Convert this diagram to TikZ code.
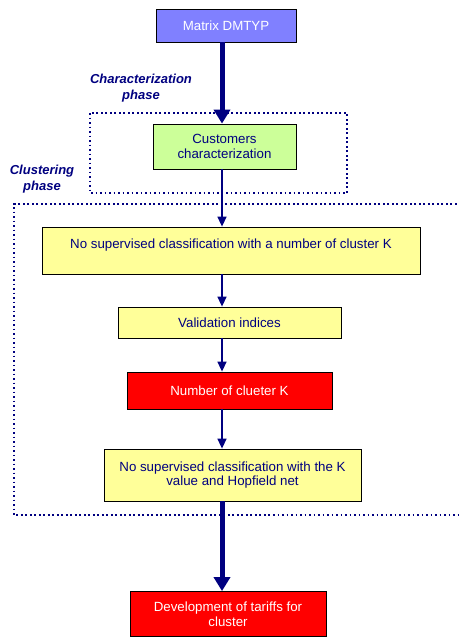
\documentclass[tikz,border=0pt]{standalone}
\usepackage{fontspec}
\setmainfont{Liberation Sans}
\usetikzlibrary{arrows.meta}
\definecolor{navy}{RGB}{0,0,128}
\definecolor{lilac}{RGB}{128,128,255}
\definecolor{lime}{RGB}{204,255,153}
\definecolor{paleyellow}{RGB}{255,255,153}

\begin{document}
\begin{tikzpicture}[x=1pt,y=-1pt,
    box/.style={draw=black, line width=0.8pt, align=center, text=navy,
                inner sep=0pt, font=\fontsize{13.3}{14.5}\selectfont},
    thinarrow/.style={navy, line width=1.5pt, -{Triangle[width=9pt,length=10pt]}},
    thickarrow/.style={navy, line width=5pt, -{Triangle[width=16pt,length=14pt]}},
    phaseframe/.style={navy, line width=1.6pt, dash pattern=on 1.6pt off 2.9pt},
    phase/.style={text=navy, align=center, font=\bfseries\itshape\fontsize{13}{15.5}\selectfont}]
    \useasboundingbox (0,0) rectangle (458,637);
    \coordinate (axis) at (222,0);

    % Fases (marcs puntejats)
    \draw[phaseframe] (90,113) rectangle (347,193);
    \draw[phaseframe] (470,204) -- (14,204) -- (14,515) -- (470,515);
    \node[phase] (charlbl) at (141,88) {Characterization\\phase};
    \node[phase] (clustlbl) at (42,179) {Clustering\\phase};

    % Caixes
    \node[box, fill=lilac, text=white, minimum width=140, minimum height=33] (matrix) at (226,25.5) {Matrix DMTYP};
    \node[box, fill=lime, minimum width=143, minimum height=45] (custom) at (224.5,146.5) {Customers\\characterization};
    \node[box, fill=paleyellow, minimum width=378, minimum height=47] (nosup) at (231,250.5) {No supervised classification with a number of cluster K\\~};
    \node[box, fill=paleyellow, minimum width=223, minimum height=31] (valid) at (229.5,322.5) {Validation indices};
    \node[box, fill=red, text=white, minimum width=205, minimum height=37] (numk) at (229.5,390.5) {Number of clueter K};
    \node[box, fill=paleyellow, minimum width=257, minimum height=52] (hopf) at (232.5,475) {No supervised classification with the K\\value and Hopfield net};
    \node[box, fill=red, text=white, minimum width=196, minimum height=45] (tariff) at (228,614) {Development of tariffs for\\cluster};

    % Fletxes
    \draw[thickarrow] (matrix.south -| axis) -- (custom.north -| axis);
    \draw[thinarrow] (custom.south -| axis) -- (nosup.north -| axis);
    \draw[thinarrow] (nosup.south -| axis) -- (valid.north -| axis);
    \draw[thinarrow] (valid.south -| axis) -- (numk.north -| axis);
    \draw[thinarrow] (numk.south -| axis) -- (hopf.north -| axis);
    \draw[thickarrow] (hopf.south -| axis) -- (tariff.north -| axis);
\end{tikzpicture}
\end{document}
